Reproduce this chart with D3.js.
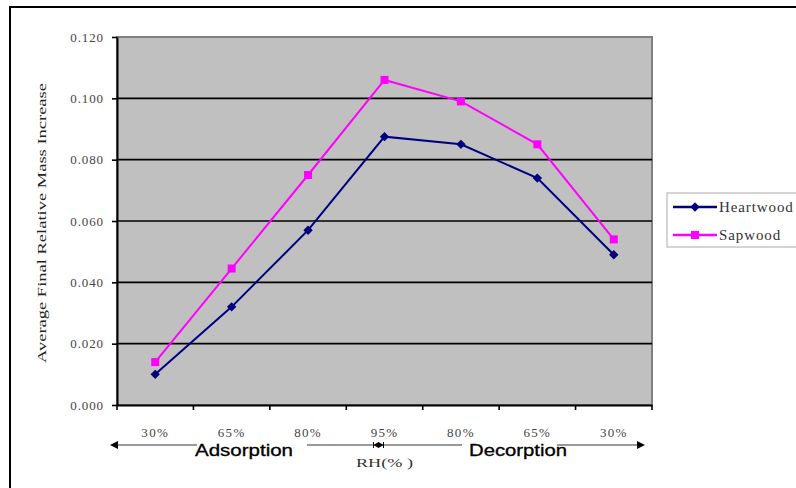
<!DOCTYPE html>
<html><head><meta charset="utf-8">
<script src="https://cdn.jsdelivr.net/npm/d3@7"></script>
<style>
html,body{margin:0;padding:0;background:#fff;}
svg{display:block;}
</style></head>
<body>
<svg id="chart" width="796" height="488"></svg>
<script>
const categories = ["30%","65%","80%","95%","80%","65%","30%"];
const heartwood = [0.010,0.032,0.057,0.0875,0.085,0.074,0.049];
const sapwood = [0.014,0.0445,0.075,0.106,0.099,0.085,0.054];
const yTicks = [0,0.02,0.04,0.06,0.08,0.10,0.12];
const seriesNames = ["Heartwood","Sapwood"];
const seriesColors = ["#000080","#ff00ff"];
const yTitle = "Average Final Relative Mass Increase";
const xTitle = "RH(% )";
const phaseLabels = ["Adsorption","Decorption"];

const svg = d3.select("#chart");
const L = 117, R = 652, T = 37, B = 405;

// outer frame
svg.append("rect").attr("x",10).attr("y",7).attr("width",800).attr("height",500)
  .attr("fill","#fff").attr("stroke","#000").attr("stroke-width",2);

const idx = categories.map((d,i)=>i);
const x = d3.scaleBand().domain(idx).range([L,R]).paddingInner(0).paddingOuter(0);
const y = d3.scaleLinear().domain([0,0.12]).range([B,T]);

// plot area
svg.append("rect").attr("x",L).attr("y",T).attr("width",R-L).attr("height",B-T)
  .attr("fill","#c0c0c0").attr("stroke","#808080").attr("stroke-width",2);

// gridlines
svg.append("g").selectAll("line").data(yTicks.filter(v=>v>0 && v<0.12)).join("line")
  .attr("x1",L).attr("x2",R).attr("y1",d=>y(d)).attr("y2",d=>y(d))
  .attr("stroke","#000").attr("stroke-width",1.6);

// y axis
const yAxis = svg.append("g").attr("transform",`translate(${L},0)`)
  .call(d3.axisLeft(y).tickValues(yTicks).tickFormat(d3.format(".3f")).tickSize(5).tickPadding(8).tickSizeOuter(0));
yAxis.select(".domain").attr("stroke","#000").attr("stroke-width",2);
yAxis.selectAll(".tick line").attr("stroke","#000").attr("stroke-width",1.6);
yAxis.selectAll("text").attr("font-family","Liberation Serif").attr("font-size",13)
  .attr("fill","#444").attr("letter-spacing","0.9px");

// x axis labels
const xAxis = svg.append("g").attr("transform",`translate(0,${B})`)
  .call(d3.axisBottom(x).tickFormat(i=>categories[i]).tickSize(0).tickPadding(23).tickSizeOuter(0));
xAxis.select(".domain").attr("stroke","#000").attr("stroke-width",2);
xAxis.selectAll("text").attr("font-family","Liberation Serif").attr("font-size",13)
  .attr("fill","#444").attr("letter-spacing","1.3px");
// x ticks at band edges
const edges = idx.map(i=>x(i)).concat([x(idx[idx.length-1])+x.bandwidth()]);
svg.append("g").selectAll("line").data(edges).join("line")
  .attr("x1",d=>d).attr("x2",d=>d).attr("y1",B).attr("y2",B+5)
  .attr("stroke","#000").attr("stroke-width",1.6);

// series
const cx = i => x(i)+x.bandwidth()/2;
const series = [heartwood, sapwood];
const line = d3.line().x((d,i)=>cx(i)).y(d=>y(d));
series.forEach((vals,s)=>{
  svg.append("path").datum(vals).attr("d",line).attr("fill","none")
    .attr("stroke",seriesColors[s]).attr("stroke-width",2);
});
// markers
svg.append("g").selectAll("path").data(heartwood).join("path")
  .attr("d",d3.symbol(d3.symbolSquare,44))
  .attr("transform",(d,i)=>`translate(${cx(i)},${y(d)}) rotate(45)`)
  .attr("fill",seriesColors[0]);
svg.append("g").selectAll("rect").data(sapwood).join("rect")
  .attr("x",(d,i)=>cx(i)-4).attr("y",d=>y(d)-4).attr("width",8).attr("height",8)
  .attr("fill",seriesColors[1]);

// y title
svg.append("text").attr("transform","translate(42,223) rotate(-90)")
  .attr("text-anchor","middle").attr("dominant-baseline","central")
  .attr("font-family","Liberation Serif").attr("font-size",12).attr("fill","#222")
  .attr("textLength",280).attr("lengthAdjust","spacingAndGlyphs").text(yTitle);

// phase arrows
const ay = 445;
const ag = svg.append("g");
const seg = (x1,x2)=>ag.append("line").attr("x1",x1).attr("x2",x2).attr("y1",ay).attr("y2",ay)
  .attr("stroke","#777").attr("stroke-width",1.6);
seg(L-5, L+80);
seg(L+190, R-190);
seg(R-95, R-9);
ag.append("path").attr("d",`M${L-7},${ay} l8,-4 l0,8 z`).attr("fill","#000");
ag.append("path").attr("d",`M${R-7},${ay} l-8,-4 l0,8 z`).attr("fill","#000");
const mx = cx(3)-6;
ag.append("path").attr("d",`M${mx-5},${ay} l5,-3 l0,6 z M${mx+5},${ay} l-5,-3 l0,6 z`).attr("fill","#000");
ag.append("line").attr("x1",mx-5).attr("x2",mx-5).attr("y1",ay-3).attr("y2",ay+3).attr("stroke","#000");
ag.append("line").attr("x1",mx+5).attr("x2",mx+5).attr("y1",ay-3).attr("y2",ay+3).attr("stroke","#000");

svg.append("text").attr("x",L+78).attr("y",456)
  .attr("font-family","Liberation Sans").attr("font-size",16).attr("fill","#000")
  .attr("stroke","#000").attr("stroke-width",0.3)
  .attr("textLength",98).attr("lengthAdjust","spacingAndGlyphs").text(phaseLabels[0]);
svg.append("text").attr("x",R-183).attr("y",456)
  .attr("font-family","Liberation Sans").attr("font-size",16).attr("fill","#000")
  .attr("stroke","#000").attr("stroke-width",0.3)
  .attr("textLength",98).attr("lengthAdjust","spacingAndGlyphs").text(phaseLabels[1]);
svg.append("text").attr("x",mx+6).attr("y",467).attr("text-anchor","middle")
  .attr("font-family","Liberation Serif").attr("font-size",13).attr("fill","#333")
  .attr("textLength",57).attr("lengthAdjust","spacingAndGlyphs").text(xTitle);

// legend
const lg = svg.append("g");
lg.append("rect").attr("x",667).attr("y",193).attr("width",150).attr("height",54)
  .attr("fill","#fff").attr("stroke","#aaa").attr("stroke-width",1);
seriesNames.forEach((name,s)=>{
  const ly = 207 + s*28;
  lg.append("line").attr("x1",673).attr("x2",717).attr("y1",ly).attr("y2",ly)
    .attr("stroke",seriesColors[s]).attr("stroke-width",2.5);
  if(s===0){
    lg.append("path").attr("d",d3.symbol(d3.symbolSquare,44))
      .attr("transform",`translate(695,${ly}) rotate(45)`).attr("fill",seriesColors[s]);
  } else {
    lg.append("rect").attr("x",691).attr("y",ly-4).attr("width",8).attr("height",8).attr("fill",seriesColors[s]);
  }
  lg.append("text").attr("x",719).attr("y",ly).attr("dominant-baseline","central")
    .attr("font-family","Liberation Serif").attr("font-size",15).attr("fill","#333")
    .attr("letter-spacing","0.9px").text(name);
});
</script>
</body></html>
